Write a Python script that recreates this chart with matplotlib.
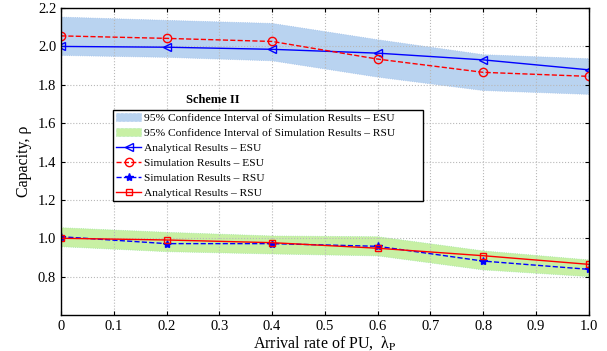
import matplotlib
matplotlib.use("Agg")
import matplotlib.pyplot as plt

# Datos
lam = [0, 0.2, 0.4, 0.6, 0.8, 1.0]
esu_analytical = [2.000, 1.996, 1.985, 1.965, 1.930, 1.878]
esu_sim = [2.055, 2.042, 2.026, 1.934, 1.865, 1.844]
esu_ci_low = [1.953, 1.943, 1.925, 1.840, 1.770, 1.750]
esu_ci_high = [2.153, 2.136, 2.120, 2.035, 1.957, 1.936]
rsu_analytical = [1.000, 0.991, 0.977, 0.948, 0.909, 0.864]
rsu_sim = [1.008, 0.972, 0.972, 0.958, 0.881, 0.838]
rsu_ci_low = [0.956, 0.930, 0.918, 0.908, 0.835, 0.800]
rsu_ci_high = [1.055, 1.031, 1.012, 1.008, 0.934, 0.887]

xticks = [0, 0.1, 0.2, 0.3, 0.4, 0.5, 0.6, 0.7, 0.8, 0.9, 1.0]
xticklabels = ["0", "0.1", "0.2", "0.3", "0.4", "0.5", "0.6", "0.7", "0.8", "0.9", "1.0"]
yticks = [0.8, 1.0, 1.2, 1.4, 1.6, 1.8, 2.0, 2.2]

plt.rcParams['font.family'] = ['Liberation Serif', 'DejaVu Serif']
plt.rcParams['mathtext.fontset'] = 'stix'

fig = plt.figure(figsize=(6.07, 3.51), dpi=100)
ax = fig.add_axes([0.1005, 0.1026, 0.8695, 0.8744])

ax.fill_between(lam, esu_ci_low, esu_ci_high, facecolor="#b9d3f0", edgecolor="#9fc0ea",
                linestyle=":", linewidth=0.6,
                label="95% Confidence Interval of Simulation Results \u2013 ESU")
ax.fill_between(lam, rsu_ci_low, rsu_ci_high, facecolor="#c8f0a4", edgecolor="#9fe6a0",
                linestyle=":", linewidth=0.6,
                label="95% Confidence Interval of Simulation Results \u2013 RSU")
ax.plot(lam, esu_analytical, color="blue", linestyle="-", linewidth=1.0, marker="<",
        markersize=6, markerfacecolor="none", markeredgecolor="blue",
        label="Analytical Results \u2013 ESU")
ax.plot(lam, esu_sim, color="red", linestyle="--", linewidth=1.0, marker="o",
        markersize=6, markerfacecolor="none", markeredgecolor="red",
        label="Simulation Results \u2013 ESU")
ax.plot(lam, rsu_sim, color="blue", linestyle="--", linewidth=1.0, marker="*",
        markersize=6, label="Simulation Results \u2013 RSU")
ax.plot(lam, rsu_analytical, color="red", linestyle="-", linewidth=1.0, marker="s",
        markersize=5, markerfacecolor="none", markeredgecolor="red",
        label="Analytical Results \u2013 RSU")

ax.set_xlim(0, 1.0)
ax.set_ylim(0.6, 2.2)
ax.set_xticks(xticks)
ax.set_xticklabels(xticklabels)
ax.set_yticks(yticks)
ax.tick_params(direction="in", top=True, right=True, labelsize=10.5, length=3)
ax.grid(True, linestyle=":", color="#b8b8b8", linewidth=0.8)
for s in ax.spines.values():
    s.set_linewidth(1.0)

ax.set_xlabel("Arrival rate of PU,  \u03bb$_{\\mathrm{P}}$", fontsize=11.5, labelpad=1)
ax.set_ylabel("Capacity, \u03c1", fontsize=11.5, labelpad=4)

leg = ax.legend(loc="upper left", bbox_to_anchor=(0.098, 0.0, 0.588, 0.668), mode="expand",
                borderaxespad=0,
                fontsize=8.25, fancybox=False, edgecolor="black", framealpha=1,
                handlelength=2.2, handletextpad=0.2, labelspacing=0.42, borderpad=0.3)
leg.get_frame().set_linewidth(1.0)

ax.text(0.287, 0.70, "Scheme II", transform=ax.transAxes, fontsize=9, fontweight="bold",
        ha="center", va="center")

plt.savefig("out.png", dpi=100)
